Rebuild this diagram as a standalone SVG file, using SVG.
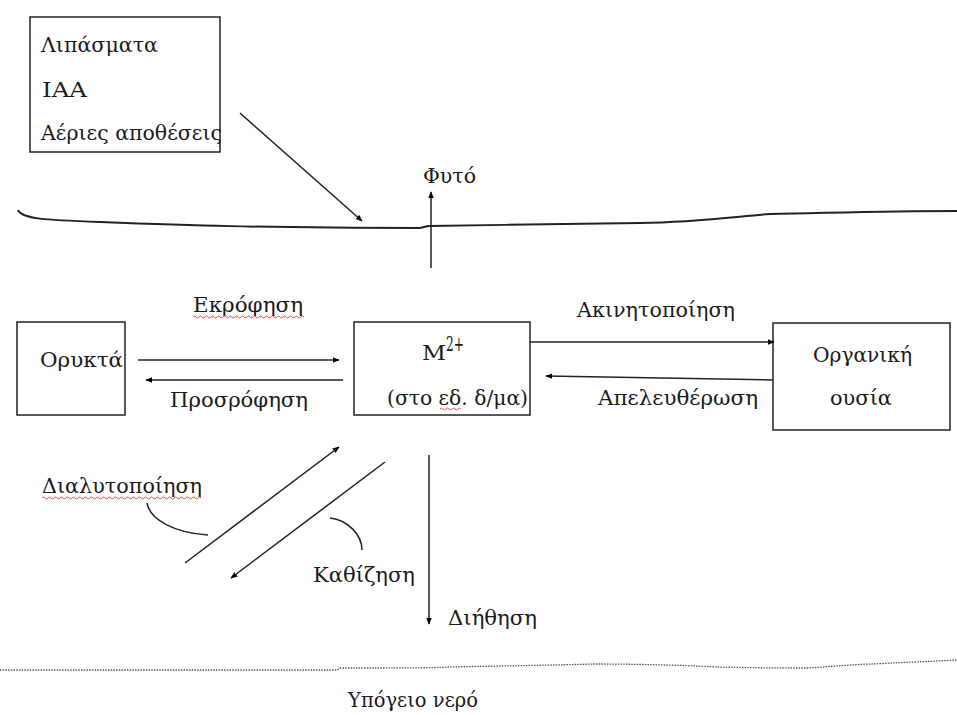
<svg xmlns="http://www.w3.org/2000/svg" width="957" height="715" viewBox="0 0 957 715">
<defs>
<marker id="ah" viewBox="0 0 10 10" refX="9" refY="5" markerWidth="7" markerHeight="7" orient="auto" markerUnits="userSpaceOnUse">
<path d="M0,1 L10,5 L0,9 z" fill="#000"/>
</marker>
<style>
text{font-family:"DejaVu Serif","Liberation Serif",serif;font-size:21px;fill:#1a1a1a}
.box{fill:#fff;stroke:#222;stroke-width:1.5}
.ln{fill:none;stroke:#222;stroke-width:1.5}
.gl{fill:none;stroke:#222;stroke-width:2}
.arr{fill:none;stroke:#222;stroke-width:1.5;marker-end:url(#ah)}
.sq{fill:none;stroke:#d04040;stroke-width:0.9}
</style>
</defs>
<rect width="957" height="715" fill="#fff"/>

<g id="surface">
<path class="gl" d="M18,210 C22,219 45,220 100,222 C180,225 260,228 420,228 L428,226 C500,225 560,224 640,223 C700,222 740,216 770,214 C830,213 880,211 957,211"/>
</g>
<g id="groundwater">
<path d="M0,670 L337,670 L340,668 C400,668 430,668 447,667 C500,666 560,665 594,664 C650,664 700,666 718,667 C760,668 790,668 807,668 C840,666 860,664 873,664 C910,662 940,661 957,660" fill="none" stroke="#555" stroke-width="1.3" stroke-dasharray="1.5 1.2"/>
</g>

<g id="inputs">
<rect class="box" x="30" y="17" width="190" height="135"/>
<text x="41" y="52" textLength="117" lengthAdjust="spacingAndGlyphs">Λιπάσματα</text>
<text x="42" y="97" textLength="45" lengthAdjust="spacingAndGlyphs">ΙΑΑ</text>
<text x="41" y="140" textLength="181" lengthAdjust="spacingAndGlyphs">Αέριες αποθέσεις</text>
</g>

<g id="minerals">
<rect class="box" x="17" y="322" width="108" height="93"/>
<text x="40" y="367" textLength="83" lengthAdjust="spacingAndGlyphs">Ορυκτά</text>
</g>

<g id="metal">
<rect class="box" x="354" y="322" width="176" height="93"/>
<text x="422" y="360" textLength="24" lengthAdjust="spacingAndGlyphs">M</text>
<text x="446" y="351" font-size="13" textLength="18" lengthAdjust="spacingAndGlyphs">2+</text>
<text x="387" y="405" textLength="141" lengthAdjust="spacingAndGlyphs">(στο εδ. δ/μα)</text>
</g>

<g id="organic">
<rect class="box" x="773" y="323" width="177" height="107"/>
<text x="813" y="362" textLength="99" lengthAdjust="spacingAndGlyphs">Οργανική</text>
<text x="830" y="405" textLength="62" lengthAdjust="spacingAndGlyphs">ουσία</text>
</g>

<g id="labels">
<text x="423" y="183" textLength="53" lengthAdjust="spacingAndGlyphs">Φυτό</text>
<text x="193" y="312" textLength="110" lengthAdjust="spacingAndGlyphs">Εκρόφηση</text>
<text x="170" y="407" textLength="138" lengthAdjust="spacingAndGlyphs">Προσρόφηση</text>
<text x="577" y="317" textLength="158" lengthAdjust="spacingAndGlyphs">Ακινητοποίηση</text>
<text x="598" y="405" textLength="160" lengthAdjust="spacingAndGlyphs">Απελευθέρωση</text>
<text x="42" y="493" textLength="160" lengthAdjust="spacingAndGlyphs">Διαλυτοποίηση</text>
<text x="313" y="582" textLength="102" lengthAdjust="spacingAndGlyphs">Καθίζηση</text>
<text x="448" y="625" textLength="89" lengthAdjust="spacingAndGlyphs">Διήθηση</text>
<text x="348" y="707" textLength="130" lengthAdjust="spacingAndGlyphs">Υπόγειο νερό</text>
</g>

<g id="spelling">
<path class="sq" d="M193,317 q1.5,-2 3,0 t3,0 t3,0 t3,0 t3,0 t3,0 t3,0 t3,0 t3,0 t3,0 t3,0 t3,0 t3,0 t3,0 t3,0 t3,0 t3,0 t3,0 t3,0 t3,0 t3,0 t3,0 t3,0 t3,0 t3,0 t3,0 t3,0 t3,0 t3,0 t3,0 t3,0 t3,0 t3,0 t3,0 t3,0 t3,0 t3,0"/>
<path class="sq" d="M440,409 q1.5,-2 3,0 t3,0 t3,0 t3,0 t3,0 t3,0 t3,0"/>
<path class="sq" d="M42,498 q1.5,-2 3,0 t3,0 t3,0 t3,0 t3,0 t3,0 t3,0 t3,0 t3,0 t3,0 t3,0 t3,0 t3,0 t3,0 t3,0 t3,0 t3,0 t3,0 t3,0 t3,0 t3,0 t3,0 t3,0 t3,0 t3,0 t3,0 t3,0 t3,0 t3,0 t3,0 t3,0 t3,0 t3,0 t3,0 t3,0 t3,0 t3,0 t3,0 t3,0 t3,0 t3,0 t3,0 t3,0 t3,0 t3,0 t3,0 t3,0 t3,0 t3,0 t3,0 t3,0 t3,0 t3,0"/>
</g>

<g id="connectors">
<line class="arr" x1="240" y1="113" x2="362" y2="221"/>
<line class="arr" x1="431" y1="268" x2="431" y2="192"/>
<line class="arr" x1="138" y1="360" x2="339" y2="360"/>
<line class="arr" x1="343" y1="380" x2="146" y2="380"/>
<line class="arr" x1="530" y1="342" x2="774" y2="342"/>
<line class="arr" x1="773" y1="380" x2="546" y2="376"/>
<line class="arr" x1="185" y1="563" x2="339" y2="447"/>
<line class="arr" x1="385" y1="462" x2="231" y2="578"/>
<line class="arr" x1="429" y1="455" x2="429" y2="624"/>
<path class="ln" d="M147,503 C150,520 175,533 208,535"/>
<path class="ln" d="M330,518 C348,520 362,535 362,550"/>
</g>
</svg>
